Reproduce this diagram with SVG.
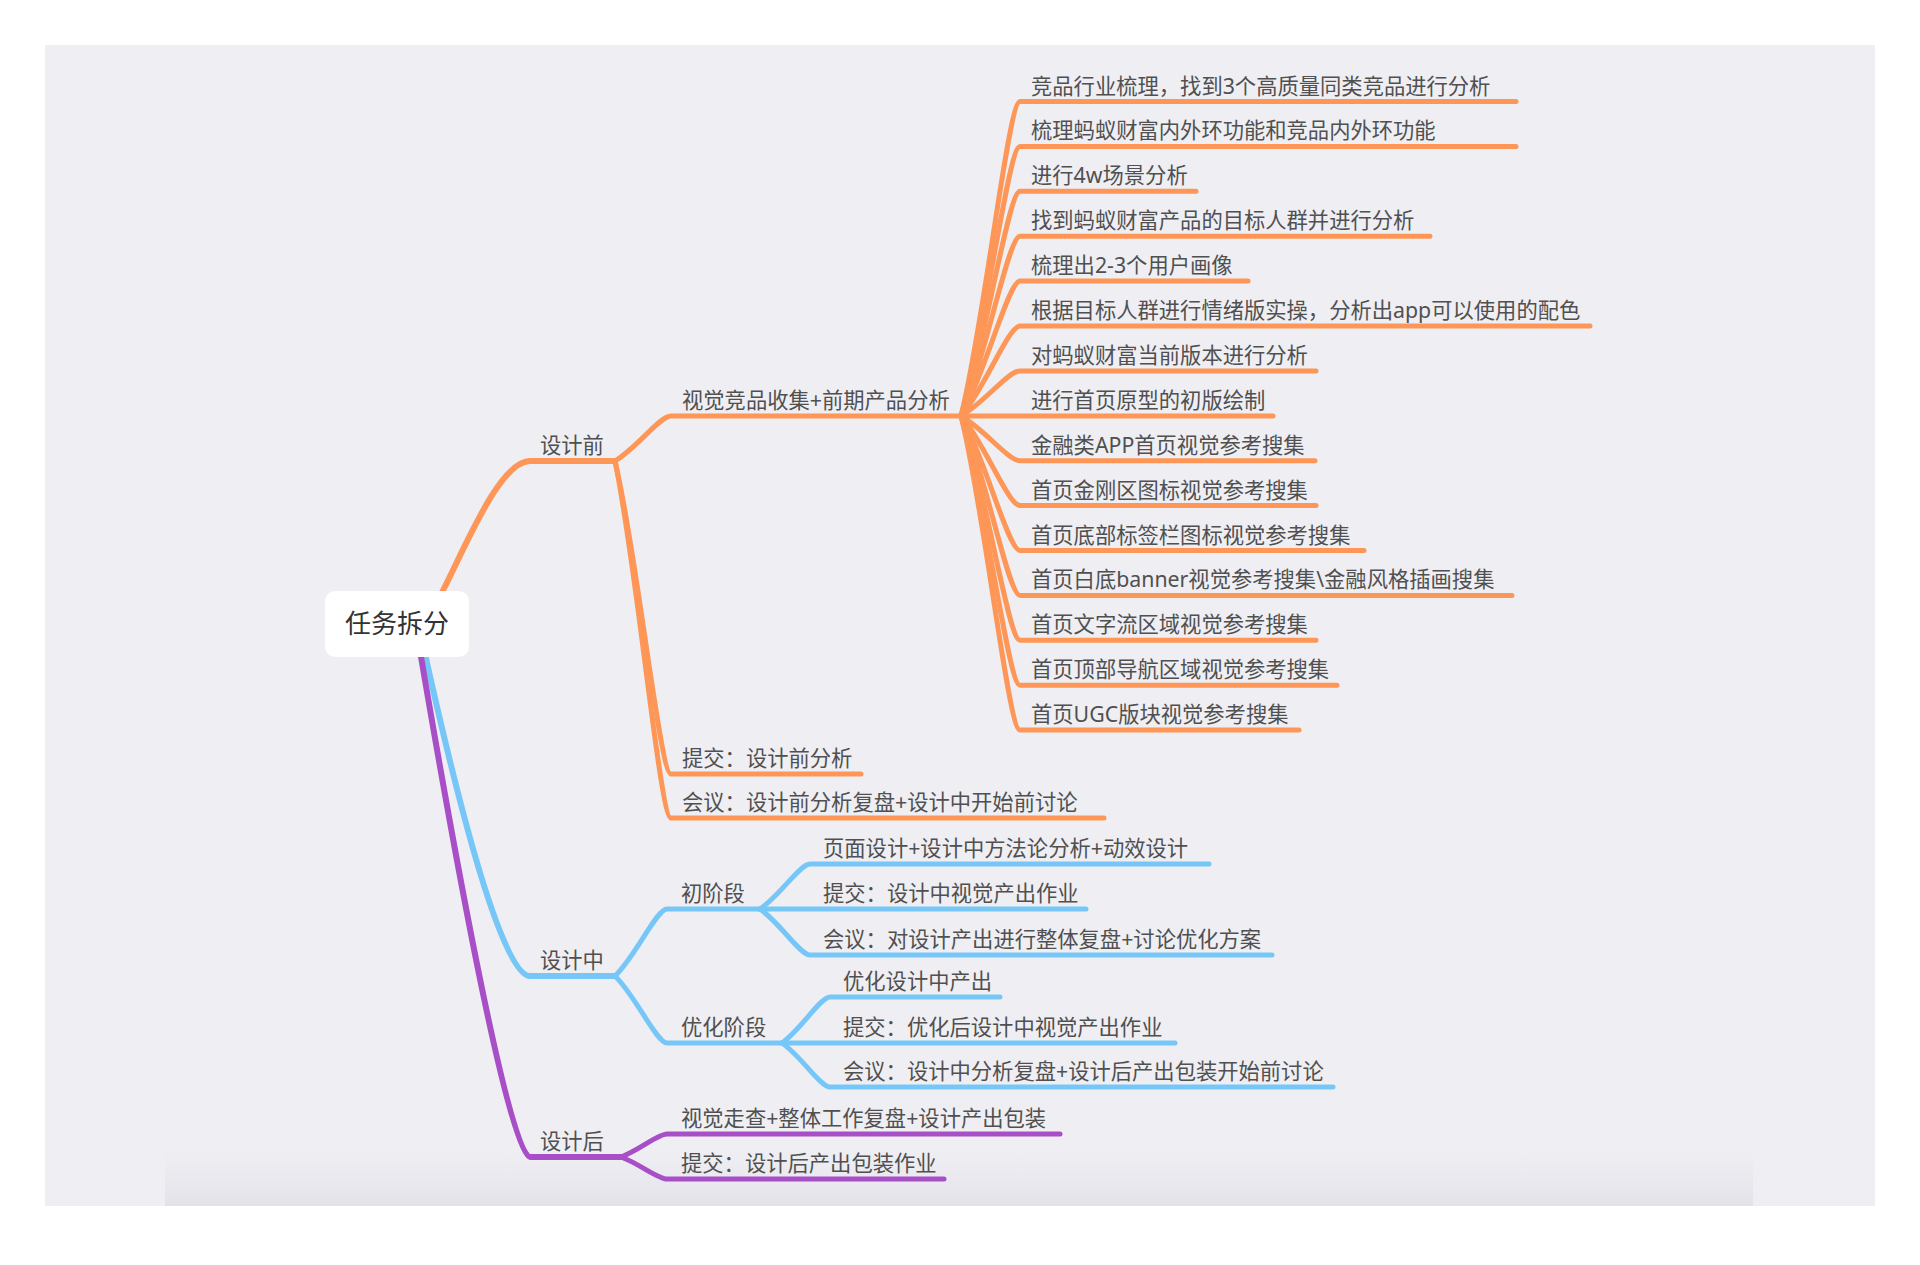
<svg xmlns="http://www.w3.org/2000/svg" width="1920" height="1265" viewBox="0 0 1920 1265">
<defs>
<linearGradient id="band" x1="0" y1="0" x2="0" y2="1">
<stop offset="0" stop-color="#E6E6EC" stop-opacity="0"/>
<stop offset="1" stop-color="#E2E2E9" stop-opacity="1"/>
</linearGradient>
<style>
.t{font-family:"Noto Sans","Noto Sans CJK SC",sans-serif;font-size:21.3px;fill:#505050}
.root{font-family:"Noto Sans","Noto Sans CJK SC",sans-serif;font-size:26px;fill:#333333}
.o{fill:none;stroke:#FD9656;stroke-width:5;stroke-linecap:round;stroke-linejoin:round}
.b{fill:none;stroke:#76C7F7;stroke-width:5;stroke-linecap:round;stroke-linejoin:round}
.p{fill:none;stroke:#A84FC8;stroke-width:5;stroke-linecap:round;stroke-linejoin:round}
.main{stroke-width:6}
</style>
</defs>
<rect width="1920" height="1265" fill="#FFFFFF"/>
<rect x="45" y="45" width="1830" height="1161" fill="#EEEEF3"/>
<rect x="165" y="1150" width="1588" height="56" fill="url(#band)"/>

<g id="connectors">
<path class="o main" d="M438,600 C461,558 498,461 530,461 L615,461"/>
<path class="b main" d="M423,645 C445,744.3 497.9,976 530,976 L615,976"/>
<path class="p main" d="M419,645 C445,798.6 507.8,1157 530,1157 L621,1157"/>
<path class="o" d="M615,461 C637.4,447.5 659.8,416 671,416 L961,416"/>
<path class="o" d="M615,461 C637.4,554.9 659.8,774 671,774 L861,774"/>
<path class="o" d="M615,461 C637.4,568.1 659.8,818 671,818 L1104,818"/>
<path class="o" d="M961,416 C984.6,321.65 1008.2,101.5 1020,101.5 L1516,101.5"/>
<path class="o" d="M961,416 C984.6,335.1 1008.2,146.4 1020,146.4 L1516,146.4"/>
<path class="o" d="M961,416 C984.6,348.6 1008.2,191.3 1020,191.3 L1196,191.3"/>
<path class="o" d="M961,416 C984.6,362.1 1008.2,236.2 1020,236.2 L1430,236.2"/>
<path class="o" d="M961,416 C984.6,375.5 1008.2,281.1 1020,281.1 L1248,281.1"/>
<path class="o" d="M961,416 C984.6,389 1008.2,326 1020,326 L1590,326"/>
<path class="o" d="M961,416 C984.6,402.5 1008.2,370.9 1020,370.9 L1316,370.9"/>
<path class="o" d="M961,416 L1273,416"/>
<path class="o" d="M961,416 C984.6,429.4 1008.2,460.7 1020,460.7 L1315,460.7"/>
<path class="o" d="M961,416 C984.6,442.9 1008.2,505.6 1020,505.6 L1316,505.6"/>
<path class="o" d="M961,416 C984.6,456.4 1008.2,550.5 1020,550.5 L1364,550.5"/>
<path class="o" d="M961,416 C984.6,469.8 1008.2,595.4 1020,595.4 L1512,595.4"/>
<path class="o" d="M961,416 C984.6,483.3 1008.2,640.3 1020,640.3 L1316,640.3"/>
<path class="o" d="M961,416 C984.6,496.8 1008.2,685.2 1020,685.2 L1337,685.2"/>
<path class="o" d="M961,416 C984.6,510.2 1008.2,730.1 1020,730.1 L1299,730.1"/>
<path class="b" d="M615,976 C635.8,955.9 656.6,909 667,909 L760,909"/>
<path class="b" d="M615,976 C635.8,996.1 656.6,1043 667,1043 L782,1043"/>
<path class="b" d="M760,909 C780,895.5 800,864 810,864 L1209,864"/>
<path class="b" d="M760,909 L1086,909"/>
<path class="b" d="M760,909 C780,922.8 800,955 810,955 L1272,955"/>
<path class="b" d="M782,1043 C801.2,1029.2 820.4,997 830,997 L1000,997"/>
<path class="b" d="M782,1043 L1175,1043"/>
<path class="b" d="M782,1043 C801.2,1056.2 820.4,1087 830,1087 L1333,1087"/>
<path class="p" d="M621,1157 C639.4,1150.1 657.8,1134 667,1134 L1060,1134"/>
<path class="p" d="M621,1157 C639.4,1163.6 657.8,1179 667,1179 L944,1179"/>
</g>

<g id="root">
<rect x="325" y="591" width="144" height="66" rx="10" ry="10" fill="#FFFFFF"/>
<text class="root" x="397" y="633" text-anchor="middle">任务拆分</text>
</g>

<g id="n-before"><text class="t" x="540" y="453">设计前</text></g>
<g id="n-during"><text class="t" x="540" y="968">设计中</text></g>
<g id="n-after"><text class="t" x="540" y="1149">设计后</text></g>

<g id="n-visual"><text class="t" x="682" y="408">视觉竞品收集+前期产品分析</text></g>
<g id="n-submit1"><text class="t" x="682" y="766">提交：设计前分析</text></g>
<g id="n-meet1"><text class="t" x="682" y="810">会议：设计前分析复盘+设计中开始前讨论</text></g>

<g id="n-l3-1"><text class="t" x="1031" y="93.5">竞品行业梳理，找到3个高质量同类竞品进行分析</text></g>
<g id="n-l3-2"><text class="t" x="1031" y="138.4">梳理蚂蚁财富内外环功能和竞品内外环功能</text></g>
<g id="n-l3-3"><text class="t" x="1031" y="183.3">进行4w场景分析</text></g>
<g id="n-l3-4"><text class="t" x="1031" y="228.2">找到蚂蚁财富产品的目标人群并进行分析</text></g>
<g id="n-l3-5"><text class="t" x="1031" y="273.1">梳理出2-3个用户画像</text></g>
<g id="n-l3-6"><text class="t" x="1031" y="318">根据目标人群进行情绪版实操，分析出app可以使用的配色</text></g>
<g id="n-l3-7"><text class="t" x="1031" y="362.9">对蚂蚁财富当前版本进行分析</text></g>
<g id="n-l3-8"><text class="t" x="1031" y="407.8">进行首页原型的初版绘制</text></g>
<g id="n-l3-9"><text class="t" x="1031" y="452.7">金融类APP首页视觉参考搜集</text></g>
<g id="n-l3-10"><text class="t" x="1031" y="497.6">首页金刚区图标视觉参考搜集</text></g>
<g id="n-l3-11"><text class="t" x="1031" y="542.5">首页底部标签栏图标视觉参考搜集</text></g>
<g id="n-l3-12"><text class="t" x="1031" y="587.4">首页白底banner视觉参考搜集\金融风格插画搜集</text></g>
<g id="n-l3-13"><text class="t" x="1031" y="632.3">首页文字流区域视觉参考搜集</text></g>
<g id="n-l3-14"><text class="t" x="1031" y="677.2">首页顶部导航区域视觉参考搜集</text></g>
<g id="n-l3-15"><text class="t" x="1031" y="722.1">首页UGC版块视觉参考搜集</text></g>

<g id="n-early"><text class="t" x="681" y="901">初阶段</text></g>
<g id="n-opt"><text class="t" x="681" y="1035">优化阶段</text></g>
<g id="n-early-1"><text class="t" x="823" y="856">页面设计+设计中方法论分析+动效设计</text></g>
<g id="n-early-2"><text class="t" x="823" y="901">提交：设计中视觉产出作业</text></g>
<g id="n-early-3"><text class="t" x="823" y="947">会议：对设计产出进行整体复盘+讨论优化方案</text></g>
<g id="n-opt-1"><text class="t" x="843" y="989">优化设计中产出</text></g>
<g id="n-opt-2"><text class="t" x="843" y="1035">提交：优化后设计中视觉产出作业</text></g>
<g id="n-opt-3"><text class="t" x="843" y="1079">会议：设计中分析复盘+设计后产出包装开始前讨论</text></g>

<g id="n-after-1"><text class="t" x="681" y="1126">视觉走查+整体工作复盘+设计产出包装</text></g>
<g id="n-after-2"><text class="t" x="681" y="1171">提交：设计后产出包装作业</text></g>
</svg>
